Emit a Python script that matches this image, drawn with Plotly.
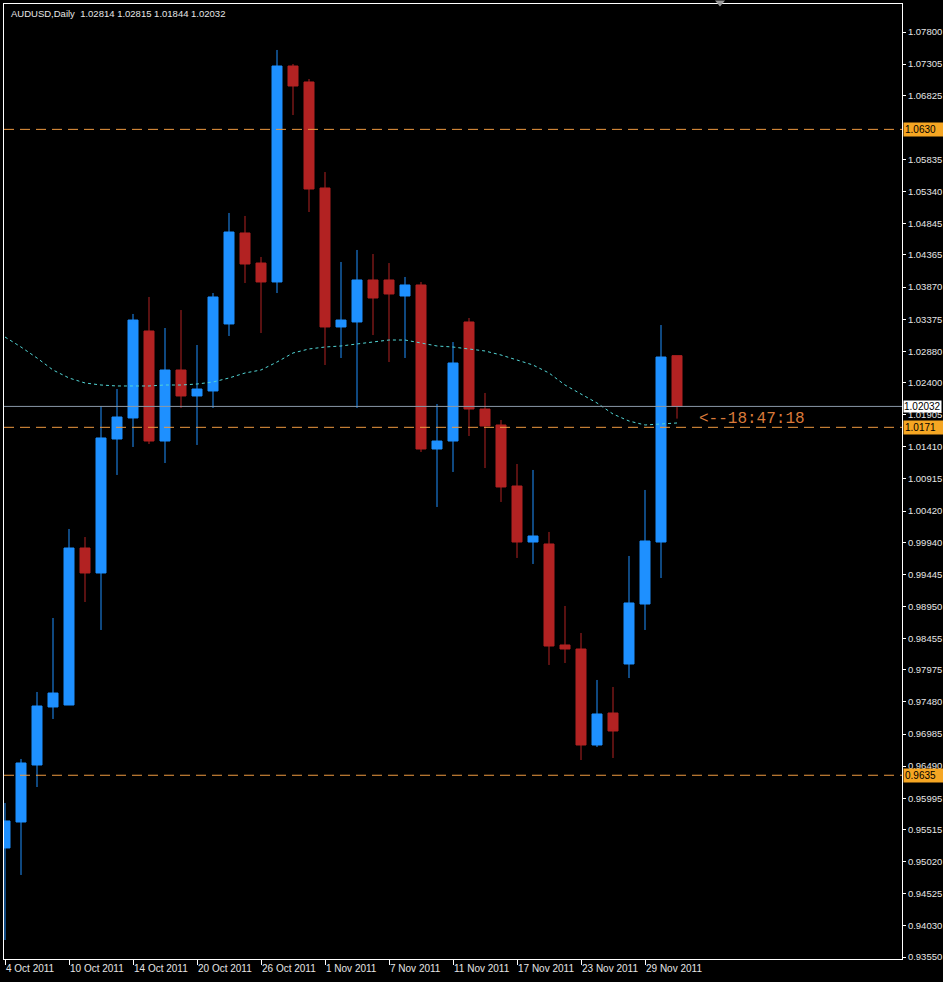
import plotly.graph_objects as go

# ---------------- data ----------------
dates = ["2011-10-04", "2011-10-05", "2011-10-06", "2011-10-07", "2011-10-10", "2011-10-11",
         "2011-10-12", "2011-10-13", "2011-10-14", "2011-10-17", "2011-10-18", "2011-10-19",
         "2011-10-20", "2011-10-21", "2011-10-24", "2011-10-25", "2011-10-26", "2011-10-27",
         "2011-10-28", "2011-10-31", "2011-11-01", "2011-11-02", "2011-11-03", "2011-11-04",
         "2011-11-07", "2011-11-08", "2011-11-09", "2011-11-10", "2011-11-11", "2011-11-14",
         "2011-11-15", "2011-11-16", "2011-11-17", "2011-11-18", "2011-11-21", "2011-11-22",
         "2011-11-23", "2011-11-24", "2011-11-25", "2011-11-28", "2011-11-29", "2011-11-30",
         "2011-12-01"]

opens = [0.95230, 0.95630, 0.96508, 0.97402, 0.97432, 0.99851, 0.99466, 1.01530, 1.01854, 1.03194,
         1.01499, 1.02593, 1.02193, 1.02270, 1.03302, 1.04704, 1.04241, 1.03949, 1.07276, 1.07030,
         1.05397, 1.03256, 1.03333, 1.03980, 1.03980, 1.03733, 1.03903, 1.01376, 1.01499, 1.03333,
         1.01992, 1.01746, 1.00806, 0.99943, 0.99913, 0.98357, 0.98295, 0.96816, 0.97309, 0.98064,
         0.98988, 0.99943, 1.02814]
highs = [0.95923, 0.96601, 0.97633, 0.98773, 1.00144, 1.00020, 1.02039, 1.02300, 1.03456, 1.03718,
         1.03240, 1.03517, 1.02978, 1.03779, 1.05012, 1.04966, 1.04334, 1.07523, 1.07307, 1.07076,
         1.05643, 1.04257, 1.04442, 1.04380, 1.04241, 1.04026, 1.03949, 1.02069, 1.03024, 1.03394,
         1.02239, 1.01823, 1.01145, 1.01053, 1.00098, 0.98958, 0.98542, 0.97818, 0.97710, 0.99728,
         1.00745, 1.03286, 1.02815]
lows = [0.93812, 0.94814, 0.96169, 0.97217, 0.97432, 0.99019, 0.98588, 1.00976, 1.01407, 1.01453,
        1.01160, 1.02008, 1.01438, 1.02008, 1.03117, 1.03933, 1.03163, 1.03779, 1.06521, 1.05027,
        1.02670, 1.02778, 1.02008, 1.03132, 1.02716, 1.02778, 1.01330, 1.00483, 1.01022, 1.01576,
        1.01083, 1.00560, 0.99697, 0.99605, 0.98049, 0.98079, 0.96585, 0.96785, 0.96616, 0.97848,
        0.98588, 0.99389, 1.01844]
closes = [0.95646, 0.96539, 0.97417, 0.97617, 0.99851, 0.99466, 1.01546, 1.01869, 1.03363, 1.01499,
          1.02593, 1.02193, 1.02300, 1.03718, 1.04719, 1.04226, 1.03949, 1.07276, 1.06968, 1.05381,
          1.03256, 1.03363, 1.03980, 1.03702, 1.03764, 1.03903, 1.01376, 1.01499, 1.02701, 1.01992,
          1.01730, 1.00791, 0.99943, 1.00036, 0.98341, 0.98295, 0.96816, 0.97294, 0.97032, 0.99004,
          0.99959, 1.02793, 1.02032]
moving_avg = [1.03101, 1.02947, 1.02778, 1.02593, 1.02470, 1.02393, 1.02362, 1.02347, 1.02347, 1.02347,
              1.02362, 1.02362, 1.02377, 1.02408, 1.02470, 1.02547, 1.02593, 1.02716, 1.02855, 1.02917,
              1.02947, 1.02963, 1.02994, 1.03024, 1.03055, 1.03055, 1.03009, 1.02963, 1.02947, 1.02917,
              1.02886, 1.02824, 1.02747, 1.02670, 1.02547, 1.02362, 1.02223, 1.02085, 1.01915, 1.01807,
              1.01746, 1.01761, 1.01777]

date_tick_labels = ["4 Oct 2011", "10 Oct 2011", "14 Oct 2011", "20 Oct 2011", "26 Oct 2011",
                    "1 Nov 2011", "7 Nov 2011", "11 Nov 2011", "17 Nov 2011", "23 Nov 2011",
                    "29 Nov 2011"]
date_tick_step = 4

price_ticks = [1.07800, 1.07305, 1.06825, 1.05835, 1.05340, 1.04845, 1.04365, 1.03870, 1.03375,
               1.02880, 1.02400, 1.01905, 1.01410, 1.00915, 1.00420, 0.99940, 0.99445, 0.98950,
               0.98455, 0.97975, 0.97480, 0.96985, 0.96490, 0.95995, 0.95515, 0.95020, 0.94525,
               0.94030, 0.93550]
price_tick_labels = ["%.5f" % v for v in price_ticks]

level_lines = [1.0630, 1.0171, 0.9635]
level_labels = ["1.0630", "1.0171", "0.9635"]
bid_price = 1.02032
bid_label = "1.02032"
title_text = "AUDUSD,Daily  1.02814 1.02815 1.01844 1.02032"
countdown_text = "<--18:47:18"
countdown_price = 1.01838

# ---------------- figure ----------------
W, H = 943, 982
ML, MR, MT, MB = 4, 41, 4, 23
x_idx = list(range(len(dates)))

fig = go.Figure()

fig.add_trace(go.Scatter(
    x=x_idx, y=moving_avg, mode="lines",
    line=dict(color="#52D6D6", width=1, dash="dot"),
    hoverinfo="skip", showlegend=False))

fig.add_trace(go.Candlestick(
    x=x_idx, open=opens, high=highs, low=lows, close=closes,
    increasing=dict(line=dict(color="#1E90FF", width=1), fillcolor="#1E90FF"),
    decreasing=dict(line=dict(color="#B22222", width=1), fillcolor="#B22222"),
    whiskerwidth=0, showlegend=False, text=dates))

shapes = []
for lv in level_lines:
    shapes.append(dict(type="line", xref="paper", yref="y", x0=0, x1=1, y0=lv, y1=lv,
                       line=dict(color="#EE9A40", width=1, dash="10px,6px")))
shapes.append(dict(type="line", xref="paper", yref="y", x0=0, x1=1, y0=bid_price, y1=bid_price,
                   line=dict(color="#8A98A8", width=1)))

# small chart-shift marker at top
pw = W - ML - MR
ph = H - MT - MB
def px(xp):
    return (xp - ML) / pw
def py(yp):
    return (H - MB - yp) / ph
shapes.append(dict(type="path", xref="paper", yref="paper",
                   path="M %f %f L %f %f L %f %f Z" % (px(715), py(0.5), px(725), py(0.5), px(720), py(6.5)),
                   fillcolor="#9A9A9A", line=dict(width=0)))

annotations = []
for lv, lab in zip(level_lines, level_labels):
    annotations.append(dict(x=1, xref="paper", xanchor="left", xshift=1, y=lv, yref="y",
                            text=lab, showarrow=False, bgcolor="#F5A623", width=37, align="left",
                            borderpad=1,
                            font=dict(family="Liberation Sans", size=10, color="#000000")))
annotations.append(dict(x=1, xref="paper", xanchor="left", xshift=1, y=bid_price, yref="y",
                        text=bid_label, showarrow=False, bgcolor="#FFFFFF", width=37, align="left",
                        borderpad=0,
                        font=dict(family="Liberation Sans", size=10, color="#000000")))
annotations.append(dict(x=px(9), xref="paper", xanchor="left", y=py(13), yref="paper",
                        yanchor="middle", text=title_text, showarrow=False,
                        font=dict(family="Liberation Sans", size=9.5, color="#E6E6E6")))
annotations.append(dict(x=len(dates) - 1 + 1.25, xref="x", xanchor="left", y=countdown_price,
                        yref="y", yanchor="middle", text=countdown_text, showarrow=False,
                        font=dict(family="Liberation Mono", size=16, color="#D97A3A")))

fig.update_layout(
    width=W, height=H,
    margin=dict(l=ML, r=MR, t=MT, b=MB, pad=0, autoexpand=False),
    paper_bgcolor="#000000", plot_bgcolor="#000000",
    boxgap=0.375, boxgroupgap=0,
    shapes=shapes, annotations=annotations,
    showlegend=False,
    xaxis=dict(
        range=[-0.0625, 56.0625], rangeslider=dict(visible=False),
        tickmode="array", tickvals=list(range(0, len(dates), date_tick_step)),
        ticktext=date_tick_labels, ticks="outside", ticklen=5, tickcolor="#FFFFFF",
        ticklabelposition="outside right", tickangle=0, automargin=False,
        tickfont=dict(family="Liberation Sans", size=10, color="#E6E6E6"),
        showgrid=False, zeroline=False, showline=True, linecolor="#FFFFFF", linewidth=1,
        mirror=True, fixedrange=True),
    yaxis=dict(
        range=[0.935195, 1.082313], side="right", automargin=False,
        tickmode="array", tickvals=price_ticks, ticktext=price_tick_labels,
        ticks="outside", ticklen=3, tickcolor="#FFFFFF",
        tickfont=dict(family="Liberation Sans", size=9.5, color="#E6E6E6"),
        showgrid=False, zeroline=False, showline=True, linecolor="#FFFFFF", linewidth=1,
        mirror=True, fixedrange=True),
)

fig.write_html(
    "out.html",
    config={"displayModeBar": False},
    post_script="document.body.style.margin='0px';document.body.style.padding='0px';"
                "document.documentElement.style.background='#000';document.body.style.background='#000';",
)
